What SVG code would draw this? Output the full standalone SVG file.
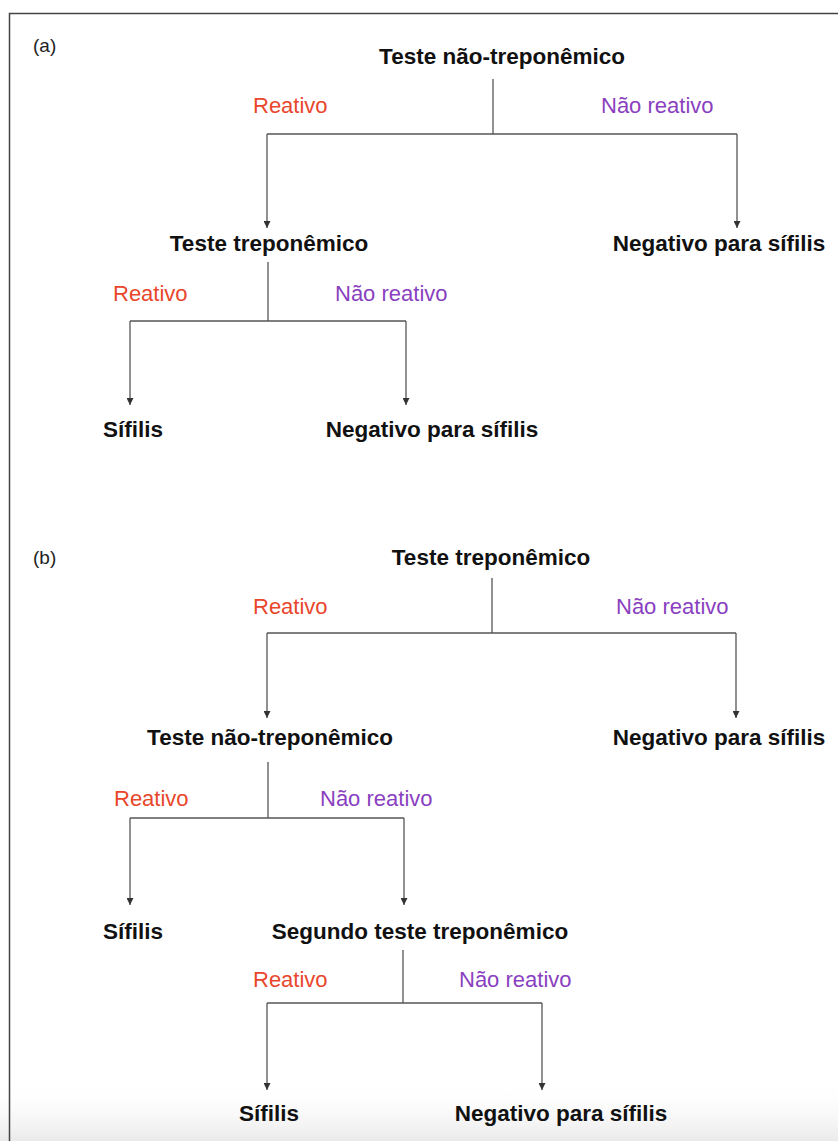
<svg xmlns="http://www.w3.org/2000/svg" width="838" height="1141" viewBox="0 0 838 1141">
<defs>
<style>
.node{font-family:"Liberation Sans",Arial,sans-serif;font-weight:bold;font-size:22.5px;fill:#111;text-anchor:middle}
.lab{font-family:"Liberation Sans",Arial,sans-serif;font-size:22px}
.re{fill:#e8472c}
.nr{fill:#8a3fc0}
.tag{font-family:"Liberation Sans",Arial,sans-serif;font-size:19px;fill:#222}
.ln{fill:none;stroke:#555;stroke-width:1.3}
</style>
<marker id="ah" viewBox="0 0 10 10" refX="10" refY="5" markerWidth="7" markerHeight="7" markerUnits="userSpaceOnUse" orient="auto">
<path d="M0,0 L10,5 L0,10 z" fill="#333"/>
</marker>
<linearGradient id="fade" x1="0" y1="0" x2="0" y2="1">
<stop offset="0" stop-color="#fff" stop-opacity="0"/>
<stop offset="1" stop-color="#eaeaea" stop-opacity="1"/>
</linearGradient>
</defs>
<rect width="838" height="1141" fill="#fff"/>
<rect x="0" y="1080" width="838" height="61" fill="url(#fade)"/>
<path d="M9.5,1141 V13.5 H838" fill="none" stroke="#444" stroke-width="1.5"/>
<text class="tag" x="33" y="52">(a)</text>
<text class="tag" x="33" y="564">(b)</text>
<g id="connectors">
<path class="ln" d="M493,79 V134"/>
<path class="ln" d="M267,134 H737"/>
<path class="ln" d="M267,134 V228" marker-end="url(#ah)"/>
<path class="ln" d="M737,134 V228" marker-end="url(#ah)"/>
<path class="ln" d="M268,262 V321"/>
<path class="ln" d="M130,321 H406"/>
<path class="ln" d="M130,321 V405" marker-end="url(#ah)"/>
<path class="ln" d="M406,321 V405" marker-end="url(#ah)"/>
<path class="ln" d="M492,578 V633"/>
<path class="ln" d="M267,633 H736"/>
<path class="ln" d="M267,633 V718" marker-end="url(#ah)"/>
<path class="ln" d="M736,633 V718" marker-end="url(#ah)"/>
<path class="ln" d="M268,762 V818"/>
<path class="ln" d="M130,818 H404"/>
<path class="ln" d="M130,818 V905" marker-end="url(#ah)"/>
<path class="ln" d="M404,818 V905" marker-end="url(#ah)"/>
<path class="ln" d="M403,950 V1003"/>
<path class="ln" d="M267,1003 H542"/>
<path class="ln" d="M267,1003 V1090" marker-end="url(#ah)"/>
<path class="ln" d="M542,1003 V1090" marker-end="url(#ah)"/>
</g>
<g id="labels">
<text class="lab re" x="253" y="113">Reativo</text>
<text class="lab nr" x="601" y="113">Não reativo</text>
<text class="lab re" x="113" y="301">Reativo</text>
<text class="lab nr" x="335" y="301">Não reativo</text>
<text class="lab re" x="253" y="614">Reativo</text>
<text class="lab nr" x="616" y="614">Não reativo</text>
<text class="lab re" x="114" y="806">Reativo</text>
<text class="lab nr" x="320" y="806">Não reativo</text>
<text class="lab re" x="253" y="987">Reativo</text>
<text class="lab nr" x="459" y="987">Não reativo</text>
</g>
<g id="a-root"><text class="node" x="502" y="64">Teste não-treponêmico</text></g>
<g id="a-trep"><text class="node" x="269" y="251">Teste treponêmico</text></g>
<g id="a-neg1"><text class="node" x="719" y="251">Negativo para sífilis</text></g>
<g id="a-sif"><text class="node" x="133" y="437">Sífilis</text></g>
<g id="a-neg2"><text class="node" x="432" y="437">Negativo para sífilis</text></g>
<g id="b-root"><text class="node" x="491" y="565">Teste treponêmico</text></g>
<g id="b-ntrep"><text class="node" x="270" y="745">Teste não-treponêmico</text></g>
<g id="b-neg1"><text class="node" x="719" y="745">Negativo para sífilis</text></g>
<g id="b-sif1"><text class="node" x="133" y="939">Sífilis</text></g>
<g id="b-second"><text class="node" x="420" y="939">Segundo teste treponêmico</text></g>
<g id="b-sif2"><text class="node" x="269" y="1121">Sífilis</text></g>
<g id="b-neg2"><text class="node" x="561" y="1121">Negativo para sífilis</text></g>
</svg>
